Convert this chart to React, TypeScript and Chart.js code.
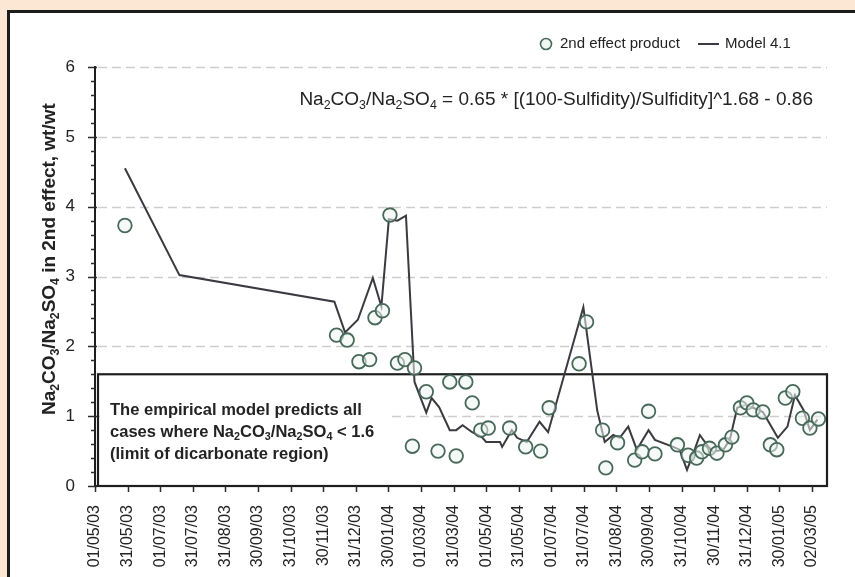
import React, { useEffect, useRef } from 'react';
import { Chart, registerables } from 'chart.js';

Chart.register(...registerables);

// ---- Data ----
const tickLabels = [
  '01/05/03', '31/05/03', '01/07/03', '31/07/03', '31/08/03', '30/09/03', '31/10/03', '30/11/03',
  '31/12/03', '30/01/04', '01/03/04', '31/03/04', '01/05/04', '31/05/04', '01/07/04', '31/07/04',
  '31/08/04', '30/09/04', '31/10/04', '30/11/04', '31/12/04', '30/01/05', '02/03/05',
];
const TICK_STEP_DAYS = 30.5;
const AXIS_END_DAYS = 685;
const Y_MIN = 0;
const Y_MAX = 6;
const DICARBONATE_LIMIT = 1.6;

const productDates = [
  '29/05/03', '13/12/03', '23/12/03', '03/01/04', '13/01/04', '18/01/04', '25/01/04', '01/02/04',
  '08/02/04', '15/02/04', '22/02/04', '24/02/04', '06/03/04', '17/03/04', '28/03/04', '03/04/04',
  '12/04/04', '18/04/04', '26/04/04', '03/05/04', '23/05/04', '07/06/04', '21/06/04', '29/06/04',
  '27/07/04', '03/08/04', '18/08/04', '21/08/04', '01/09/04', '17/09/04', '24/09/04', '30/09/04',
  '06/10/04', '27/10/04', '06/11/04', '14/11/04', '19/11/04', '26/11/04', '03/12/04', '11/12/04',
  '17/12/04', '25/12/04', '31/12/04', '06/01/05', '15/01/05', '22/01/05', '28/01/05', '05/02/05',
  '12/02/05', '21/02/05', '28/02/05', '08/03/05',
];
const productValues = [
  3.73, 2.16, 2.09, 1.78, 1.81, 2.41, 2.51, 3.88,
  1.76, 1.81, 0.57, 1.69, 1.35, 0.50, 1.49, 0.43,
  1.49, 1.19, 0.80, 0.83, 0.83, 0.56, 0.50, 1.12,
  1.75, 2.35, 0.80, 0.26, 0.62, 0.37, 0.49, 1.07,
  0.46, 0.59, 0.44, 0.40, 0.49, 0.54, 0.47, 0.59,
  0.70, 1.12, 1.19, 1.09, 1.06, 0.59, 0.52, 1.26,
  1.35, 0.97, 0.83, 0.96,
];

const modelDates = [
  '29/05/03', '19/07/03', '11/12/03', '21/12/03', '02/01/04', '16/01/04', '24/01/04', '31/01/04',
  '08/02/04', '16/02/04', '24/02/04', '06/03/04', '11/03/04', '18/03/04', '28/03/04', '03/04/04',
  '09/04/04', '18/04/04', '27/04/04', '01/05/04', '14/05/04', '16/05/04', '25/05/04', '30/05/04',
  '08/06/04', '20/06/04', '28/06/04', '31/07/04', '13/08/04', '20/08/04', '28/08/04', '03/09/04',
  '11/09/04', '19/09/04', '30/09/04', '06/10/04', '23/10/04', '29/10/04', '05/11/04', '11/11/04',
  '17/11/04', '25/11/04', '29/11/04', '09/12/04', '15/12/04', '22/12/04', '29/12/04', '06/01/05',
  '15/01/05', '29/01/05', '07/02/05', '14/02/05', '22/02/05', '28/02/05', '07/03/05',
];
const modelValues = [
  4.55, 3.02, 2.64, 2.20, 2.38, 2.98, 2.57, 3.82,
  3.80, 3.87, 1.49, 1.05, 1.26, 1.13, 0.80, 0.80,
  0.87, 0.77, 0.70, 0.63, 0.63, 0.56, 0.80, 0.69,
  0.63, 0.92, 0.77, 2.56, 1.08, 0.63, 0.73, 0.69,
  0.85, 0.52, 0.80, 0.66, 0.56, 0.52, 0.23, 0.47,
  0.73, 0.56, 0.49, 0.52, 0.66, 1.12, 1.16, 1.12,
  1.06, 0.69, 0.85, 1.30, 1.09, 0.80, 0.95,
];

const seriesNames = ['2nd effect product', 'Model 4.1'];

type Seg = [string, boolean];
const RATIO: Seg[] = [['Na', false], ['2', true], ['CO', false], ['3', true], ['/Na', false], ['2', true], ['SO', false], ['4', true]];
const equationSegs: Seg[] = [...RATIO, [' = 0.65 * [(100-Sulfidity)/Sulfidity]^1.68 - 0.86', false]];
const yTitleSegs: Seg[] = [...RATIO, [' in 2nd effect, wt/wt', false]];
const boxLines: Seg[][] = [
  [['The empirical model predicts all', false]],
  [['cases where Na', false], ['2', true], ['CO', false], ['3', true], ['/Na', false], ['2', true], ['SO', false], ['4', true], [' < 1.6', false]],
  [['(limit of dicarbonate region)', false]],
];

const FONT = '"Liberation Sans", Arial, Helvetica, sans-serif';
const INK = '#232323';

const START = Date.UTC(2003, 4, 1);
function dayOf(s: string): number {
  const [d, m, y] = s.split('/').map(Number);
  return (Date.UTC(2000 + y, m - 1, d) - START) / 86400000;
}

function font(size: number, bold: boolean) {
  return `${bold ? 'bold ' : ''}${size}px ${FONT}`;
}
function richWidth(ctx: CanvasRenderingContext2D, segs: Seg[], size: number, bold: boolean) {
  let w = 0;
  for (const [t, sub] of segs) {
    ctx.font = font(sub ? size * 0.65 : size, bold);
    w += ctx.measureText(t).width;
  }
  return w;
}
function drawRich(ctx: CanvasRenderingContext2D, segs: Seg[], x: number, y: number, size: number, bold: boolean) {
  ctx.textAlign = 'left';
  ctx.textBaseline = 'middle';
  let cx = x;
  for (const [t, sub] of segs) {
    const s = sub ? size * 0.65 : size;
    ctx.font = font(s, bold);
    ctx.fillText(t, cx, sub ? y + size * 0.28 : y);
    cx += ctx.measureText(t).width;
  }
}
function fitSize(ctx: CanvasRenderingContext2D, segs: Seg[], bold: boolean, target: number) {
  return (10 * target) / richWidth(ctx, segs, 10, bold);
}

const decorPlugin = {
  id: 'decor',
  beforeDatasetsDraw(chart: any) {
    const { ctx, chartArea: a, scales } = chart;
    const y = scales.y;
    const x = scales.x;
    ctx.save();
    // dashed gridlines
    ctx.strokeStyle = '#cdcdcd';
    ctx.lineWidth = 1.6;
    ctx.setLineDash([9, 5]);
    for (let v = Y_MIN + 1; v <= Y_MAX; v++) {
      const py = Math.round(y.getPixelForValue(v)) + 0.5;
      ctx.beginPath();
      ctx.moveTo(a.left + 3, py);
      ctx.lineTo(a.right, py);
      ctx.stroke();
    }
    ctx.setLineDash([]);
    // box for region
    const boxTop = y.getPixelForValue(DICARBONATE_LIMIT);
    const boxLeft = a.left + 3;
    ctx.fillStyle = '#ffffff';
    ctx.fillRect(boxLeft + 2, boxTop + 16, 288, 92);
    ctx.strokeStyle = '#1e1e1e';
    ctx.lineWidth = 2.2;
    ctx.strokeRect(boxLeft, boxTop, a.right - boxLeft, a.bottom - boxTop);
    // axes
    ctx.lineWidth = 2;
    ctx.beginPath();
    ctx.moveTo(a.left, a.top - 1);
    ctx.lineTo(a.left, a.bottom + 1);
    ctx.moveTo(a.left, a.bottom);
    ctx.lineTo(a.right + 1, a.bottom);
    ctx.stroke();
    // y ticks
    ctx.lineWidth = 1.5;
    ctx.strokeStyle = '#2a2a2a';
    for (let i = 0; i <= (Y_MAX - Y_MIN) * 5; i++) {
      const v = Y_MIN + i / 5;
      const py = Math.round(y.getPixelForValue(v)) + 0.5;
      const major = i % 5 === 0;
      ctx.beginPath();
      ctx.moveTo(a.left - (major ? 7 : 4), py);
      ctx.lineTo(a.left + (major ? 2 : 0), py);
      ctx.stroke();
    }
    // x ticks
    for (let i = 0; i < tickLabels.length; i++) {
      const px = Math.round(x.getPixelForValue(i * TICK_STEP_DAYS)) + 0.5;
      ctx.beginPath();
      ctx.moveTo(px, a.bottom);
      ctx.lineTo(px, a.bottom + 6);
      ctx.stroke();
    }
    ctx.restore();
  },
  afterDatasetsDraw(chart: any) {
    const { ctx, chartArea: a, scales } = chart;
    const y = scales.y;
    ctx.save();
    ctx.fillStyle = INK;
    // box text
    const boxTop = y.getPixelForValue(DICARBONATE_LIMIT);
    const bsize = fitSize(ctx, boxLines[0], true, 252);
    boxLines.forEach((segs, i) => {
      drawRich(ctx, segs, a.left + 15, boxTop + 36 + i * 22, bsize, true);
    });
    // equation
    const esize = fitSize(ctx, equationSegs, false, 514);
    const ew = richWidth(ctx, equationSegs, esize, false);
    drawRich(ctx, equationSegs, a.right - 14 - ew, a.top + 33, esize, false);
    // y title
    const tsize = fitSize(ctx, yTitleSegs, true, 312);
    ctx.save();
    ctx.translate(50, 415);
    ctx.rotate(-Math.PI / 2);
    drawRich(ctx, yTitleSegs, 0, 0, tsize, true);
    ctx.restore();
    // legend
    const ly = a.top - 23;
    ctx.strokeStyle = '#48695a';
    ctx.fillStyle = 'rgba(236,244,240,0.8)';
    ctx.lineWidth = 1.6;
    ctx.beginPath();
    ctx.arc(546, ly, 5.5, 0, Math.PI * 2);
    ctx.fill();
    ctx.stroke();
    ctx.fillStyle = INK;
    ctx.font = font(15, false);
    ctx.textAlign = 'left';
    ctx.textBaseline = 'middle';
    ctx.fillText(seriesNames[0], 560, ly);
    ctx.strokeStyle = '#3a3a40';
    ctx.lineWidth = 2;
    ctx.beginPath();
    ctx.moveTo(698, ly);
    ctx.lineTo(719, ly);
    ctx.stroke();
    ctx.fillText(seriesNames[1], 725, ly);
    ctx.restore();
  },
};

export default function App() {
  const ref = useRef<HTMLCanvasElement | null>(null);
  useEffect(() => {
    if (!ref.current) return;
    Chart.defaults.font.family = FONT;
    const chart = new Chart(ref.current, {
      type: 'scatter',
      data: {
        datasets: [
          {
            label: seriesNames[0],
            data: productDates.map((d, i) => ({ x: dayOf(d), y: productValues[i] })),
            showLine: false,
            pointRadius: 6.8,
            pointHoverRadius: 6.8,
            pointBorderWidth: 1.8,
            borderColor: '#48695a',
            backgroundColor: 'rgba(236,244,240,0.55)',
          },
          {
            label: seriesNames[1],
            data: modelDates.map((d, i) => ({ x: dayOf(d), y: modelValues[i] })),
            showLine: true,
            pointRadius: 0,
            borderColor: '#3a3a40',
            borderWidth: 2,
            tension: 0,
          },
        ],
      },
      options: {
        responsive: false,
        animation: false,
        devicePixelRatio: 1,
        layout: { padding: { left: 0, top: 67, right: 28, bottom: 0 } },
        plugins: { legend: { display: false }, tooltip: { enabled: false } },
        scales: {
          x: {
            type: 'linear',
            min: 0,
            max: AXIS_END_DAYS,
            grid: { display: false },
            border: { display: false },
            afterFit: (s: any) => { s.height = 91; },
            ticks: {
              stepSize: TICK_STEP_DAYS,
              includeBounds: false,
              autoSkip: false,
              maxRotation: 90,
              minRotation: 90,
              padding: 11,
              color: INK,
              font: { size: 16 },
              callback: (v: any) => tickLabels[Math.round(Number(v) / TICK_STEP_DAYS)] ?? '',
            },
          },
          y: {
            min: Y_MIN,
            max: Y_MAX,
            grid: { display: false },
            border: { display: false },
            afterFit: (s: any) => { s.width = 95; },
            ticks: {
              stepSize: 1,
              padding: 12,
              color: INK,
              font: { size: 17 },
            },
          },
        },
      },
      plugins: [decorPlugin],
    } as any);
    return () => chart.destroy();
  }, []);

  return (
    <div style={{ position: 'fixed', left: 0, top: 0, width: 855, height: 577, background: '#fce7d5', overflow: 'hidden' }}>
      <div style={{ position: 'absolute', left: 7, top: 10, width: 900, height: 620, border: '3px solid #1c1c1c', background: '#ffffff' }} />
      <canvas ref={ref} width={855} height={577} style={{ position: 'absolute', left: 0, top: 0, width: 855, height: 577 }} />
    </div>
  );
}
